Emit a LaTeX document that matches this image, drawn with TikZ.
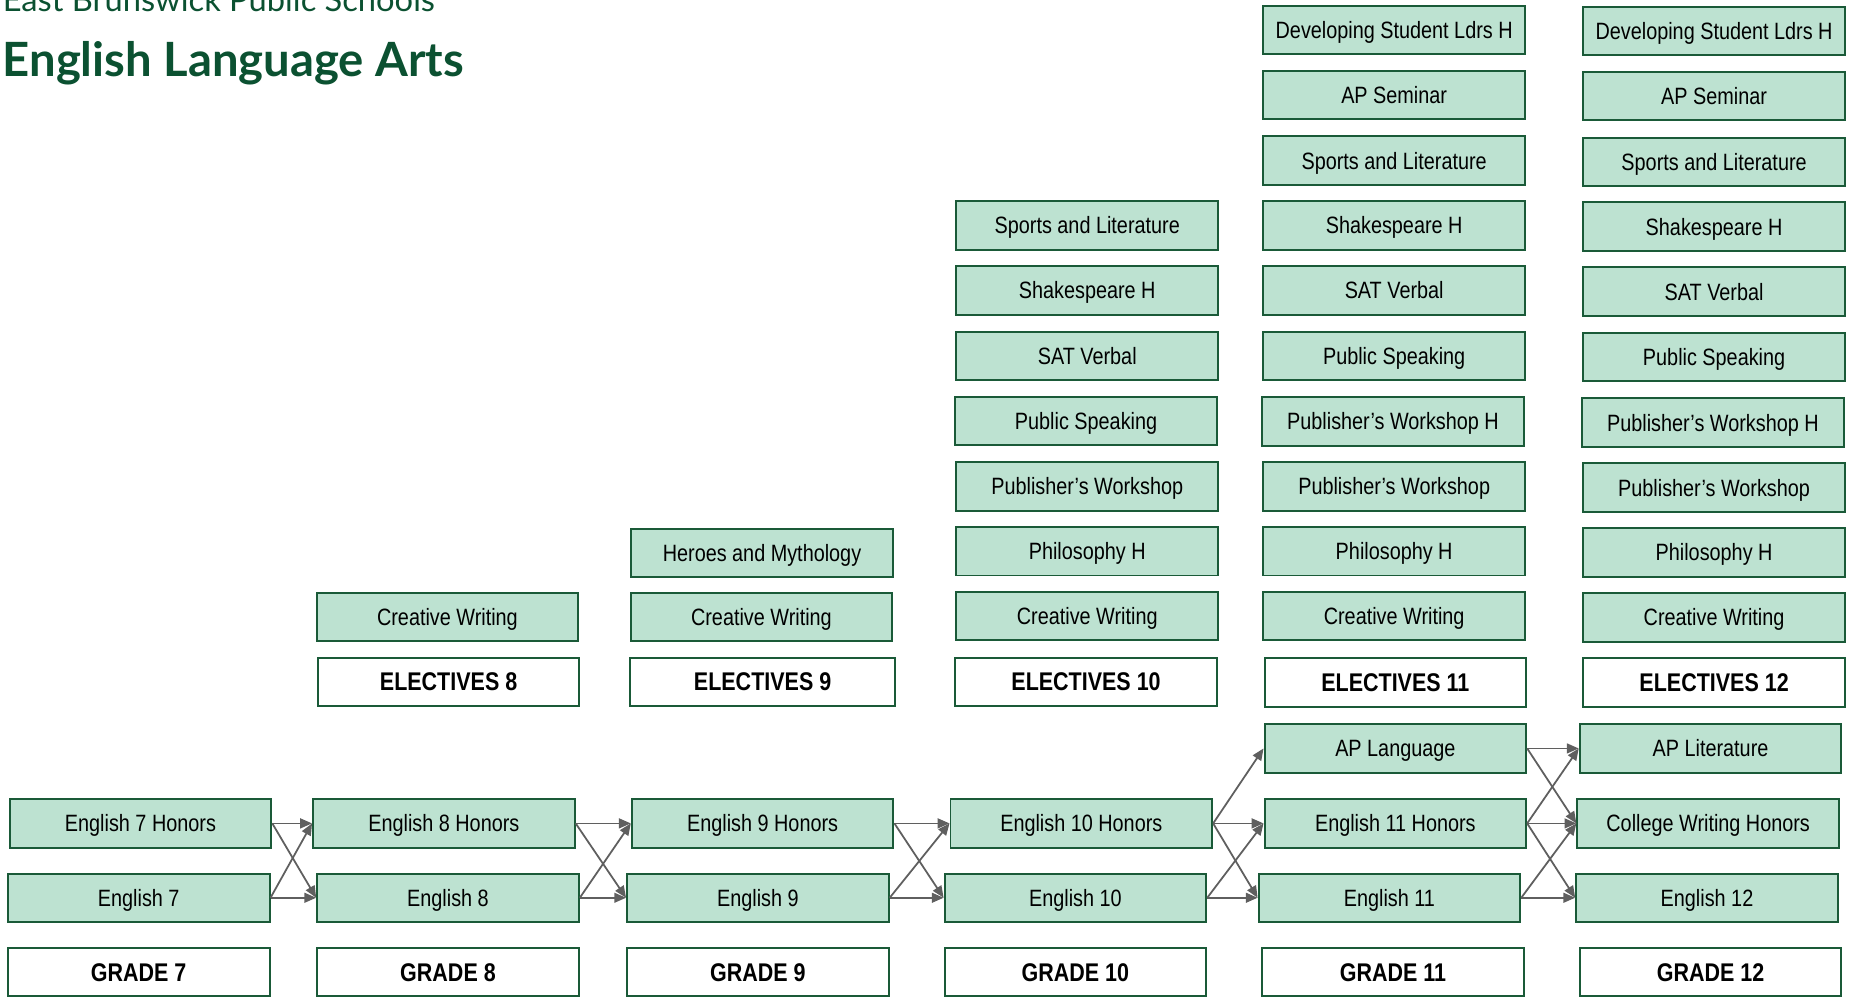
\documentclass[tikz,border=0pt]{standalone}
\usepackage{fontspec}
\setmainfont{Liberation Sans}[FakeStretch=0.84]
\newfontfamily\titlefont{Lato}
\usetikzlibrary{arrows.meta}
\definecolor{bfill}{HTML}{BDE2D1}
\definecolor{bline}{HTML}{1A5A38}
\definecolor{tgreen}{HTML}{0B5131}
\definecolor{arr}{HTML}{5F5F5F}
\begin{document}
\begin{tikzpicture}[x=0.6pt,y=-0.6pt,
  course/.style={draw=bline,line width=1pt,fill=bfill,minimum width=133pt,minimum height=24.6pt,inner sep=0pt,text height=8.6pt,text depth=0pt,font=\fontsize{12}{14}\selectfont},
  head/.style={course,fill=white,text height=9.3pt,font=\fontsize{13}{15}\selectfont\bfseries},
  flow/.style={draw=arr,line width=0.9pt,-{Triangle[length=6pt,width=5pt]}}]
\useasboundingbox (0,0) rectangle (1568,845);

\node[anchor=base west,inner sep=0pt,text=tgreen,font=\titlefont\fontsize{16.6}{20}\selectfont] (school) at (2,10) {East Brunswick Public Schools};
\node[anchor=base west,inner sep=0pt,text=tgreen,font=\titlefont\bfseries\fontsize{24}{28}\selectfont] (title) at (2,65) {English Language Arts};

% Grade 7
\node[course] (e7h) at (119,697.5) {English 7 Honors};
\node[course] (e7) at (117.5,760.5) {English 7};
\node[head] (g7) at (117.5,823.5) {GRADE 7};

% Grade 8
\node[course] (e8h) at (376,697.5) {English 8 Honors};
\node[course] (e8) at (379.5,760.5) {English 8};
\node[head] (g8) at (379.5,823.5) {GRADE 8};
\node[head] (el8) at (380,577.5) {ELECTIVES 8};
\node[course] (cw8) at (379,522.5) {Creative Writing};

% Grade 9
\node[course] (e9h) at (646,697.5) {English 9 Honors};
\node[course] (e9) at (642,760.5) {English 9};
\node[head] (g9) at (642,823.5) {GRADE 9};
\node[head,minimum width=134.4pt] (el9) at (646,577.5) {ELECTIVES 9};
\node[course] (cw9) at (645,522.5) {Creative Writing};
\node[course] (hm9) at (645.5,468.5) {Heroes and Mythology};

% Grade 10
\node[course] (e10h) at (916,697.5) {English 10 Honors};
\node[course] (e10) at (911,760.5) {English 10};
\node[head] (g10) at (911,823.5) {GRADE 10};
\node[head] (el10) at (920,577.5) {ELECTIVES 10};
\node[course] (cw10) at (921,522) {Creative Writing};
\node[course] (ph10) at (921,467) {Philosophy H};
\node[course] (pw10) at (921,412) {Publisher’s Workshop};
\node[course] (ps10) at (920,356.5) {Public Speaking};
\node[course] (sat10) at (921,301.5) {SAT Verbal};
\node[course] (sh10) at (921,246) {Shakespeare H};
\node[course] (sl10) at (921,191) {Sports and Literature};

% Grade 11
\node[course] (apl) at (1182,634) {AP Language};
\node[course] (e11h) at (1182,697.5) {English 11 Honors};
\node[course] (e11) at (1177,760.5) {English 11};
\node[head] (g11) at (1180,823.5) {GRADE 11};
\node[head] (el11) at (1182,578) {ELECTIVES 11};
\node[course] (cw11) at (1181,522) {Creative Writing};
\node[course] (ph11) at (1181,467) {Philosophy H};
\node[course] (pw11) at (1181,412) {Publisher’s Workshop};
\node[course] (pwh11) at (1180,357) {Publisher’s Workshop H};
\node[course] (ps11) at (1181,301.5) {Public Speaking};
\node[course] (sat11) at (1181,246) {SAT Verbal};
\node[course] (sh11) at (1181,191) {Shakespeare H};
\node[course] (sl11) at (1181,136) {Sports and Literature};
\node[course] (aps11) at (1181,80.5) {AP Seminar};
\node[course] (dsl11) at (1181,25.5) {Developing Student Ldrs H};

% Grade 12
\node[course] (apli) at (1449,634) {AP Literature};
\node[course] (cwh) at (1447,697.5) {College Writing Honors};
\node[course] (e12) at (1446,760.5) {English 12};
\node[head] (g12) at (1449,823.5) {GRADE 12};
\node[head] (el12) at (1452,578) {ELECTIVES 12};
\node[course] (cw12) at (1452,523) {Creative Writing};
\node[course] (ph12) at (1452,468) {Philosophy H};
\node[course] (pw12) at (1452,413) {Publisher’s Workshop};
\node[course] (pwh12) at (1451,358) {Publisher’s Workshop H};
\node[course] (ps12) at (1452,302.5) {Public Speaking};
\node[course] (sat12) at (1452,247) {SAT Verbal};
\node[course] (sh12) at (1452,192) {Shakespeare H};
\node[course] (sl12) at (1452,137) {Sports and Literature};
\node[course] (aps12) at (1452,81.5) {AP Seminar};
\node[course] (dsl12) at (1452,26.5) {Developing Student Ldrs H};

% Connectors
\foreach \a/\b in {e7h/e8h,e7h/e8,e7/e8h,e7/e8,
                   e8h/e9h,e8h/e9,e8/e9h,e8/e9,
                   e9h/e10h,e9h/e10,e9/e10h,e9/e10,
                   e10h/apl,e10h/e11h,e10h/e11,e10/e11h,e10/e11,
                   apl/apli,apl/cwh,e11h/apli,e11h/cwh,e11h/e12,e11/cwh,e11/e12}
  \draw[flow] (\a.east) -- (\b.west);
\end{tikzpicture}
\end{document}
